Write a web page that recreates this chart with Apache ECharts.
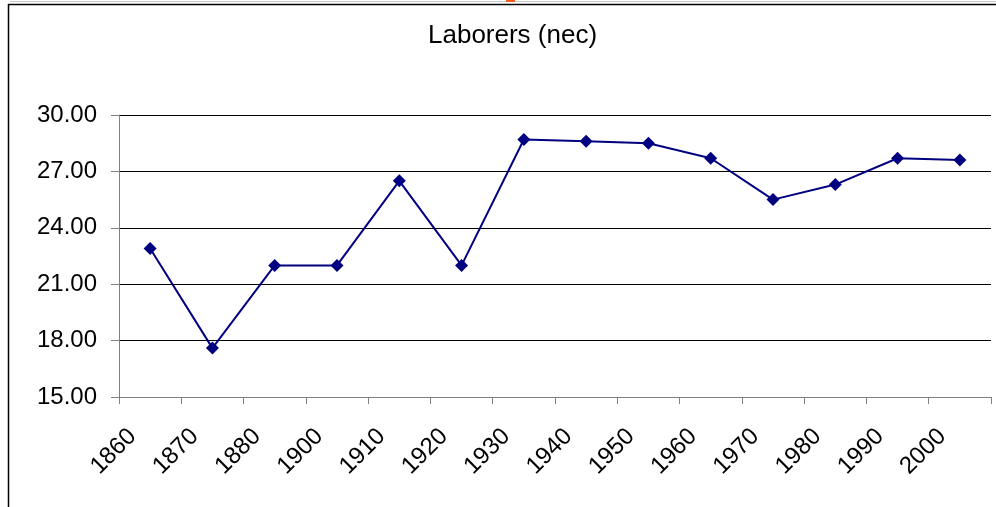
<!DOCTYPE html>
<html>
<head>
<meta charset="utf-8">
<script src="https://cdn.jsdelivr.net/npm/echarts@6/dist/echarts.min.js"></script>
<style>
  html, body { margin: 0; padding: 0; background: #fff; }
  #chart { width: 996px; height: 507px; }
</style>
</head>
<body>
<div id="chart"></div>
<script>
// data
var years = ['1860', '1870', '1880', '1900', '1910', '1920', '1930', '1940', '1950', '1960', '1970', '1980', '1990', '2000'];
var laborers = [22.9, 17.6, 22.0, 22.0, 26.5, 22.0, 28.7, 28.6, 28.5, 27.7, 25.5, 26.3, 27.7, 27.6];
var chartTitle = 'Laborers (nec)';

var font = '"Liberation Sans", Arial, sans-serif';

var chart = echarts.init(document.getElementById('chart'));
chart.setOption({
  animation: false,
  title: {
    text: chartTitle,
    left: 423,
    top: 18,
    textStyle: { fontFamily: font, fontSize: 26, fontWeight: 'normal', color: '#000' }
  },
  grid: { left: 119, right: 5, top: 115, bottom: 110 },
  xAxis: {
    type: 'category',
    data: years,
    boundaryGap: true,
    axisLine: { lineStyle: { color: '#808080', width: 1 } },
    axisTick: { show: true, length: 7, lineStyle: { color: '#808080' } },
    axisLabel: {
      rotate: 45, margin: 18, padding: [0, 25, 0, 0], color: '#000',
      fontFamily: font, fontSize: 24
    },
    splitLine: { show: false }
  },
  yAxis: {
    type: 'value',
    min: 15, max: 30, interval: 3,
    axisLine: { show: true, lineStyle: { color: '#808080', width: 1 } },
    axisTick: { show: true, length: 8, lineStyle: { color: '#808080' } },
    axisLabel: {
      margin: 22, color: '#000', fontFamily: font, fontSize: 24,
      formatter: function (v) { return v.toFixed(2); }
    },
    splitLine: { show: true, lineStyle: { color: '#000', width: 1 } }
  },
  series: [{
    name: chartTitle,
    type: 'line',
    data: laborers,
    symbol: 'diamond',
    symbolSize: 13,
    itemStyle: { color: '#000080' },
    lineStyle: { color: '#000080', width: 2 }
  }],
  graphic: [
    { type: 'line', shape: { x1: 10, y1: 1.5, x2: 996, y2: 1.5 }, style: { stroke: '#c8c8c8', lineWidth: 1 } },
    { type: 'line', shape: { x1: 8, y1: 4.5, x2: 996, y2: 4.5 }, style: { stroke: '#000', lineWidth: 1.5 } },
    { type: 'line', shape: { x1: 8.5, y1: 4, x2: 8.5, y2: 507 }, style: { stroke: '#000', lineWidth: 1.5 } },
    { type: 'rect', shape: { x: 506, y: 0, width: 9, height: 2 }, style: { fill: '#ff5a1e' } }
  ]
});
</script>
</body>
</html>
